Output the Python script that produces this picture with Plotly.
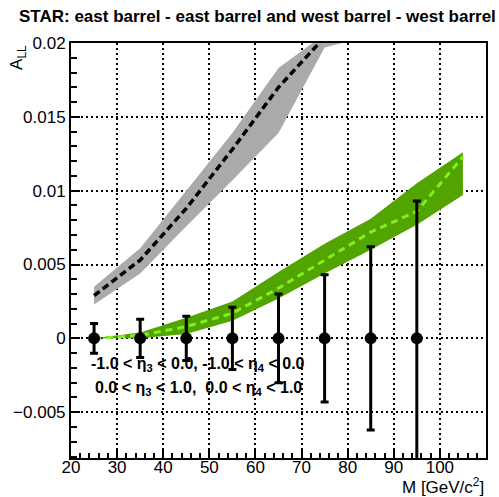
import plotly.graph_objects as go

# Measured double-spin asymmetry vs invariant mass
mass = [25, 35, 45, 55, 65, 75, 85, 95]
a_ll = [0.0, 0.0, 0.0, 0.0, 0.0, 0.0, 0.0, 0.0]
a_ll_err = [0.0010, 0.0013, 0.0015, 0.0021, 0.0030, 0.0043, 0.0062, 0.0093]

# Model predictions (central curve and uncertainty band)
model_mass = [25, 35, 45, 55, 65, 75, 85]
gray_center = [0.0029, 0.0053, 0.0088, 0.0128, 0.0170, 0.0204, 0.0235]
gray_upper = [0.0035, 0.0061, 0.0100, 0.0139, 0.0183, 0.0206, 0.0240]
gray_lower = [0.0023, 0.0044, 0.0076, 0.0107, 0.0139, 0.0197, 0.0205]

green_mass = [25, 35, 45, 55, 65, 75, 85, 95, 105]
green_center = [0.0000, 0.0002, 0.0008, 0.0017, 0.0034, 0.0053, 0.0072, 0.0086, 0.0123]
green_upper = [0.0000, 0.0004, 0.0014, 0.0025, 0.0045, 0.0064, 0.0081, 0.0105, 0.0126]
green_lower = [0.0000, 0.0000, 0.0003, 0.0012, 0.0027, 0.0044, 0.0060, 0.0077, 0.0097]

FONT = "Liberation Sans, Arial, sans-serif"

fig = go.Figure()

# grey band + black dashed curve
fig.add_trace(go.Scatter(
    x=model_mass + model_mass[::-1],
    y=gray_upper + gray_lower[::-1],
    fill="toself", fillcolor="#aaaaaa", mode="lines",
    line=dict(width=0, color="#aaaaaa"), hoverinfo="skip", showlegend=False))
fig.add_trace(go.Scatter(
    x=model_mass, y=gray_center, mode="lines",
    line=dict(color="black", width=3.5, dash="7px,4px"), showlegend=False))

# green band + light green dashed curve
fig.add_trace(go.Scatter(
    x=green_mass + green_mass[::-1],
    y=green_upper + green_lower[::-1],
    fill="toself", fillcolor="#52a500", mode="lines",
    line=dict(width=0, color="#52a500"), hoverinfo="skip", showlegend=False))
fig.add_trace(go.Scatter(
    x=green_mass, y=green_center, mode="lines",
    line=dict(color="#80f020", width=3, dash="7px,5px"), showlegend=False))

# data points with error bars
fig.add_trace(go.Scatter(
    x=mass, y=a_ll, mode="markers",
    marker=dict(color="black", size=12),
    error_y=dict(type="data", array=a_ll_err, visible=True,
                 color="black", thickness=3, width=4),
    showlegend=False))

axis_common = dict(
    showline=True, linecolor="black", linewidth=2, mirror=True,
    ticks="inside", tickcolor="black", tickwidth=1.5,
    showgrid=True, gridcolor="black", gridwidth=1.5, griddash="2px,3px",
    zeroline=False,
    tickfont=dict(family=FONT, size=17, color="black"),
)

fig.update_xaxes(
    range=[20, 110], dtick=10, tick0=20, ticklen=10,
    ticklabelstandoff=-7,
    minor=dict(dtick=2, ticks="inside", ticklen=5, tickcolor="black",
               tickwidth=1.5, showgrid=False),
    **axis_common)
fig.update_yaxes(
    range=[-0.0081, 0.02], dtick=0.005, tick0=0, ticklen=9,
    tickformat="~g",
    minor=dict(dtick=0.001, ticks="inside", ticklen=6, tickcolor="black",
               tickwidth=1.5, showgrid=False),
    **axis_common)

annotations = [
    dict(text="<b>STAR: east barrel - east barrel and west barrel - west barrel</b>",
         xref="paper", yref="paper", x=0.4506, y=1.065,
         xanchor="center", yanchor="middle", showarrow=False,
         font=dict(family=FONT, size=17, color="black")),
    dict(text="A<sub>LL</sub>", textangle=-90,
         xref="paper", yref="paper", x=-0.129, y=1.0,
         xanchor="center", yanchor="top", showarrow=False,
         font=dict(family=FONT, size=17, color="black")),
    dict(text="M [GeV/c<sup>2</sup>]",
         xref="paper", yref="paper", x=1.0, y=-0.068,
         xanchor="right", yanchor="middle", showarrow=False,
         font=dict(family=FONT, size=17, color="black")),
    dict(text="<b>-1.0 &lt; η<sub>3</sub> &lt; 0.0, -1.0 &lt; η<sub>4</sub> &lt; 0.0</b>",
         xref="x", yref="y", x=47.6, y=-0.00175,
         xanchor="center", yanchor="middle", showarrow=False,
         font=dict(family=FONT, size=16, color="black")),
    dict(text="<b>0.0 &lt; η<sub>3</sub> &lt; 1.0,&#160; 0.0 &lt; η<sub>4</sub> &lt; 1.0</b>",
         xref="x", yref="y", x=47.6, y=-0.0034,
         xanchor="center", yanchor="middle", showarrow=False,
         font=dict(family=FONT, size=16, color="black")),
]

fig.update_layout(
    width=499, height=497,
    margin=dict(l=71, r=13, t=43, b=39),
    paper_bgcolor="white", plot_bgcolor="white",
    annotations=annotations,
    showlegend=False,
)

fig.write_html("out.html")
